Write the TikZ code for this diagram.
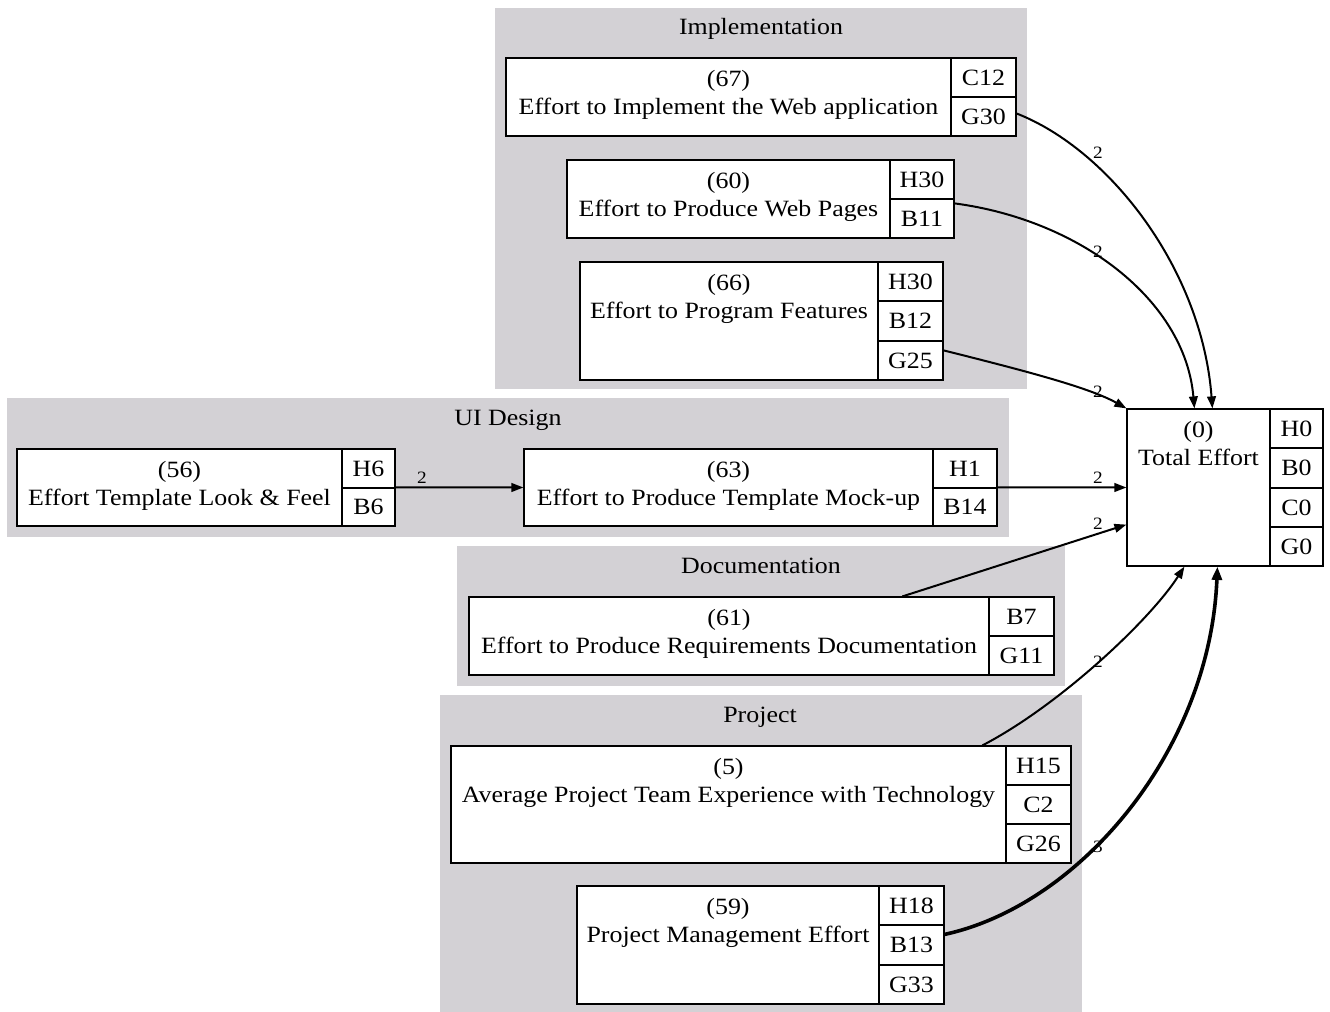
\documentclass[tikz,border=0pt]{standalone}
\usepackage{fontspec}
\setmainfont{Liberation Serif}[FakeStretch=1.11]
\usetikzlibrary{arrows.meta,fit,calc}
\definecolor{clustergray}{RGB}{211,209,213}
\begin{document}
\begin{tikzpicture}[x=0.75pt,y=-0.75pt,
  cluster/.style={fill=clustergray, draw=none, inner sep=0pt},
  rec/.style={draw, fill=white, line width=0.9pt, inner sep=0pt},
  cell/.style={rec, label={[inner sep=0pt, font=\fontsize{17.5}{20}\selectfont]center:#1}},
  txt/.style={inner sep=0pt, font=\fontsize{17.5}{20}\selectfont, anchor=base},
  edge/.style={line width=1.5pt, -{Triangle[length=9pt,width=6.5pt]}},
  heavy/.style={line width=2.7pt, -{Triangle[length=10pt,width=7.5pt]}},
  elbl/.style={inner sep=0pt, font=\fontsize{13}{15}\selectfont}]
\useasboundingbox (0,0) rectangle (1330,1012);
\fill[white] (0,0) rectangle (1330,1012);

% clusters
\node[cluster, fit={(495,8)(1027,389)}] (cImpl) {};
\node[txt] (cImplL) at (761,35) {Implementation};
\node[cluster, fit={(7,398)(1009,537)}] (cUI) {};
\node[txt] (cUIL) at (508,425) {UI Design};
\node[cluster, fit={(457,546)(1065,686)}] (cDoc) {};
\node[txt] (cDocL) at (761,573) {Documentation};
\node[cluster, fit={(440,695)(1082,1012)}] (cProj) {};
\node[txt] (cProjL) at (760,722) {Project};

% (67)
\node[rec, fit={(506,58)(951,136)}] (n67) {};
\node[cell=C12, fit={(951,58)(1016,97)}] (n67c) {};
\node[cell=G30, fit={(951,97)(1016,136)}] (n67g) {};
\node[txt] (n67t1) at ($(n67.north)+(0,29)$) {(67)};
\node[txt] (n67t2) at ($(n67.north)+(0,57)$) {Effort to Implement the Web application};

% (60)
\node[rec, fit={(567,160)(890,238)}] (n60) {};
\node[cell=H30, fit={(890,160)(954,199)}] (n60h) {};
\node[cell=B11, fit={(890,199)(954,238)}] (n60b) {};
\node[txt] (n60t1) at ($(n60.north)+(0,29)$) {(60)};
\node[txt] (n60t2) at ($(n60.north)+(0,57)$) {Effort to Produce Web Pages};

% (66)
\node[rec, fit={(580,262)(878,380)}] (n66) {};
\node[cell=H30, fit={(878,262)(943,301)}] (n66h) {};
\node[cell=B12, fit={(878,301)(943,341)}] (n66b) {};
\node[cell=G25, fit={(878,341)(943,380)}] (n66g) {};
\node[txt] (n66t1) at ($(n66.north)+(0,29)$) {(66)};
\node[txt] (n66t2) at ($(n66.north)+(0,57)$) {Effort to Program Features};

% (56)
\node[rec, fit={(17,449)(342,526)}] (n56) {};
\node[cell=H6, fit={(342,449)(395,488)}] (n56h) {};
\node[cell=B6, fit={(342,488)(395,526)}] (n56b) {};
\node[txt] (n56t1) at ($(n56.north)+(0,29)$) {(56)};
\node[txt] (n56t2) at ($(n56.north)+(0,57)$) {Effort Template Look \& Feel};

% (63)
\node[rec, fit={(524,449)(933,526)}] (n63) {};
\node[cell=H1, fit={(933,449)(997,488)}] (n63h) {};
\node[cell=B14, fit={(933,488)(997,526)}] (n63b) {};
\node[txt] (n63t1) at ($(n63.north)+(0,29)$) {(63)};
\node[txt] (n63t2) at ($(n63.north)+(0,57)$) {Effort to Produce Template Mock-up};

% (0)
\node[rec, fit={(1127,409)(1270,566)}] (t0) {};
\node[cell=H0, fit={(1270,409)(1323,448)}] (t0h) {};
\node[cell=B0, fit={(1270,448)(1323,488)}] (t0b) {};
\node[cell=C0, fit={(1270,488)(1323,527)}] (t0c) {};
\node[cell=G0, fit={(1270,527)(1323,566)}] (t0g) {};
\node[txt] (t0t1) at ($(t0.north)+(0,29)$) {(0)};
\node[txt] (t0t2) at ($(t0.north)+(0,57)$) {Total Effort};

% (61)
\node[rec, fit={(469,597)(989,675)}] (n61) {};
\node[cell=B7, fit={(989,597)(1054,636)}] (n61b) {};
\node[cell=G11, fit={(989,636)(1054,675)}] (n61g) {};
\node[txt] (n61t1) at ($(n61.north)+(0,29)$) {(61)};
\node[txt] (n61t2) at ($(n61.north)+(0,57)$) {Effort to Produce Requirements Documentation};

% (5)
\node[rec, fit={(451,746)(1006,863)}] (n5) {};
\node[cell=H15, fit={(1006,746)(1071,785)}] (n5h) {};
\node[cell=C2, fit={(1006,785)(1071,824)}] (n5c) {};
\node[cell=G26, fit={(1006,824)(1071,863)}] (n5g) {};
\node[txt] (n5t1) at ($(n5.north)+(0,29)$) {(5)};
\node[txt] (n5t2) at ($(n5.north)+(0,57)$) {Average Project Team Experience with Technology};

% (59)
\node[rec, fit={(577,886)(879,1004)}] (n59) {};
\node[cell=H18, fit={(879,886)(944,925)}] (n59h) {};
\node[cell=B13, fit={(879,925)(944,965)}] (n59b) {};
\node[cell=G33, fit={(879,965)(944,1004)}] (n59g) {};
\node[txt] (n59t1) at ($(n59.north)+(0,29)$) {(59)};
\node[txt] (n59t2) at ($(n59.north)+(0,57)$) {Project Management Effort};

% edges
\draw[edge] ($(n67g.east)+(0,-3)$) .. controls (1110,150) and (1202,270) .. ($(t0.north west)+(86,0)$);
\draw[edge] ($(n60b.north east)+(0,5)$) .. controls (1080,220) and (1185,300) .. ($(t0.north west)+(68,0)$);
\draw[edge] ($(n66g.north east)+(0,10)$) .. controls (1030,372) and (1090,388) .. (t0.north west);
\draw[edge] (n56b.north east) -- (n63.west);
\draw[edge] (n63b.north east) -- (t0.west);
\draw[edge] ($(n61.north west)+(434,0)$) -- ($(t0.south west)+(0,-42)$);
\draw[edge] ($(n5.north west)+(532,0)$) .. controls (1060,705) and (1150,620) .. ($(t0.south west)+(58,0)$);
\draw[heavy] ($(n59b.north east)+(0,10)$) .. controls (1080,905) and (1210,750) .. ($(t0.south west)+(91,0)$);

% edge labels
\node[elbl] (l1) at (1098,153) {2};
\node[elbl] (l2) at (1098,252) {2};
\node[elbl] (l3) at (1098,392) {2};
\node[elbl] (l4) at (422,478) {2};
\node[elbl] (l5) at (1098,478) {2};
\node[elbl] (l6) at (1098,524) {2};
\node[elbl] (l7) at (1098,662) {2};
\node[elbl] (l8) at (1098,847) {3};
\end{tikzpicture}
\end{document}
